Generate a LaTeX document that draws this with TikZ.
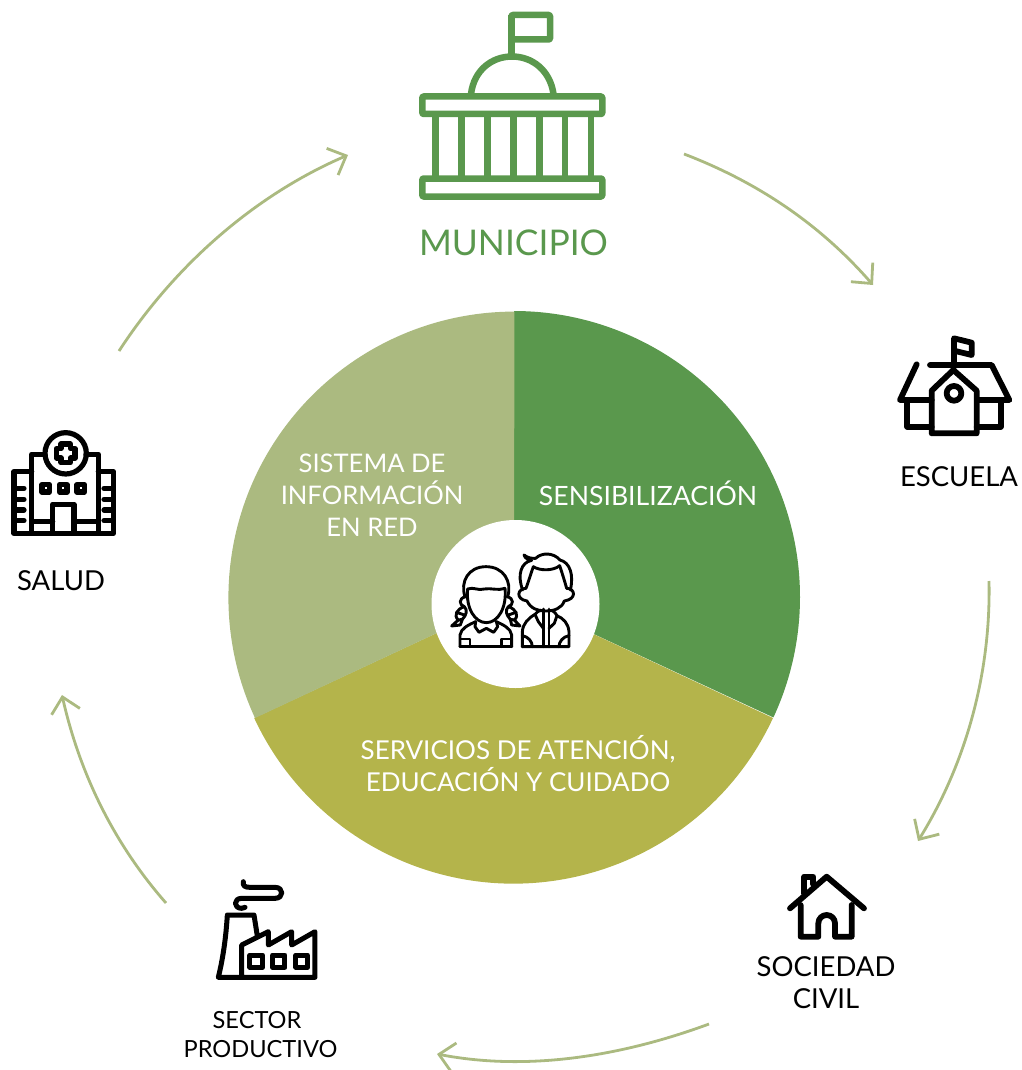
\documentclass[tikz,border=0pt]{standalone}
\usepackage{fontspec}
\setmainfont{Lato}
\usetikzlibrary{arrows.meta}
\definecolor{cgreen}{HTML}{5A984D}
\definecolor{clight}{HTML}{ABBA80}
\definecolor{colive}{HTML}{B4B44B}
\tikzset{
  flow/.style={draw=clight,line width=2.8pt,-{Straight Barb[length=15pt,width=29pt,line width=2.8pt]}},
  lab/.style={align=center,font=\fontsize{27.5}{32}\selectfont,text=black,inner sep=0pt},
  wlab/.style={lab,text=white,font=\fontsize{26.6}{32}\selectfont},
  ico/.style={line width=#1,line join=round,line cap=round},
  ico/.default=5pt
}
\begin{document}
\begin{tikzpicture}[x=1pt,y=-1pt]
\useasboundingbox (0,0) rectangle (1021,1070);
% pie
\coordinate (pc) at (514,597);
\coordinate (pa) at (514,311);
\coordinate (pb) at (773,718);
\coordinate (pd) at (255,718);
\fill[cgreen] (pc) -- (pa) arc[start angle=90,end angle=-24.9,radius=286pt] -- cycle;
\fill[colive] (pc) -- (pb) arc[start angle=-24.9,end angle=-155.1,radius=286pt] -- cycle;
\fill[clight] (pc) -- (pd) arc[start angle=-155.1,end angle=-270,radius=286pt] -- cycle;
\node[circle,fill=white,minimum size=168pt,inner sep=0pt] (hub) at (515.5,604) {};
\node[wlab] (n1) at (648,493) {SENSIBILIZACIÓN};
\node[wlab,font=\fontsize{25.6}{32}\selectfont] (n2) at (372,495.5) {SISTEMA DE\\INFORMACIÓN\\EN RED};
\node[wlab,font=\fontsize{26}{32}\selectfont] (n3) at (518,764) {SERVICIOS DE ATENCIÓN,\\EDUCACIÓN Y CUIDADO};
\node[lab,text=cgreen,font=\fontsize{35.4}{40}\selectfont] (m) at (513.5,243) {MUNICIPIO};
\node[lab] (e) at (959,477) {ESCUELA};
\node[lab] (s) at (61,581) {SALUD};
\node[lab] (c) at (826,983) {SOCIEDAD\\CIVIL};
\node[lab,font=\fontsize{23.6}{28.5}\selectfont] (f) at (260.5,1034.5) {SECTOR\hspace*{7pt}\\PRODUCTIVO};
% connectors
\coordinate (a1) at (684,154); \coordinate (a2) at (873,285);
\coordinate (b1) at (989,581); \coordinate (b2) at (918,841);
\coordinate (c1) at (709,1024); \coordinate (c2) at (437,1054);
\coordinate (d1) at (166,903); \coordinate (d2) at (62,695);
\coordinate (g1) at (119,351); \coordinate (g2) at (348,155);
\draw[flow] (a1) .. controls (765,185) and (825,230) .. (a2);
\draw[flow] (b1) .. controls (991,675) and (965,765) .. (b2);
\draw[flow] (c1) .. controls (625,1055) and (530,1072) .. (c2);
\draw[flow] (d1) .. controls (115,845) and (80,775) .. (d2);
\draw[flow] (g1) .. controls (175,265) and (255,195) .. (g2);
% municipio icon
\begin{scope}[cgreen,ico=6.5pt,line cap=butt]
\draw[rounded corners=1pt] (511.5,15) rectangle (550,39.5);
\draw (511.5,15) -- (511.5,55);
\draw (471,94) .. controls (474,70) and (492,56.5) .. (512,56.5) .. controls (532,56.5) and (550,70) .. (553.5,94);
\draw[rounded corners=1pt] (422.3,96.5) rectangle (602.3,114);
\draw[rounded corners=1pt] (422.3,178.5) rectangle (602.3,196.5);
\foreach \xx in {435.7,461.3,487.3,513.3,539.3,565,591} \draw (\xx,114) -- (\xx,178.5);
\end{scope}
% escuela icon
\begin{scope}[shift={(880,320)},x=0.3333pt,y=-0.3333pt,ico=5.8pt]
\draw (222,140) -- (222,55) -- (275,68) -- (275,105) -- (222,92);
\draw (155,212) -- (220,150) -- (290,212) -- (290,340) -- (155,340) -- cycle;
\draw (222,220) circle[radius=22];
\draw (110,133) -- (60,240) -- (155,240);
\draw (150,135) -- (335,135) -- (388,240) -- (295,240);
\draw (82,245) -- (82,320) -- (155,320);
\draw (362,245) -- (362,320) -- (290,320);
\end{scope}
% hospital icon
\begin{scope}[shift={(0,420)},x=0.3333pt,y=-0.3333pt,ico=5.2pt]
\draw (197,100) circle[radius=62];
\draw (183,72) -- (211,72) -- (211,86) -- (225,86) -- (225,114) -- (211,114) -- (211,128) -- (183,128) -- (183,114) -- (169,114) -- (169,86) -- (183,86) -- cycle;
\draw (95,340) -- (95,103) -- (135,103);
\draw (258,103) -- (295,103) -- (295,340);
\draw (95,155) -- (42,155) -- (42,340) -- (340,340) -- (340,155) -- (295,155);
\foreach \yy in {205,238,270,302} {
  \draw (42,\yy) -- (72,\yy);
  \draw (312,\yy) -- (340,\yy);
}
\foreach \xx in {137,190,242} \draw (\xx-11,194) rectangle (\xx+11,216);
\draw (158,340) -- (158,253) -- (222,253) -- (222,340);
\draw (95,305) -- (158,305) (222,305) -- (295,305);
\end{scope}
% factory icon
\begin{scope}[shift={(200,870)},x=0.3333pt,y=-0.3333pt,ico=5pt]
\draw (125,322) -- (125,225) -- (205,185) -- (205,225) -- (275,185) -- (275,225) -- (345,185) -- (345,322) -- (55,322) .. controls (70,260) and (78,200) .. (82,135) -- (162,135) -- (172,198);
\draw (150,255) rectangle (188,292);
\draw (218,255) rectangle (255,292);
\draw (288,255) rectangle (322,292);
\draw (130,35) .. controls (128,48) and (135,52) .. (150,52) -- (225,52) .. controls (252,52) and (252,85) .. (225,85) -- (125,85) .. controls (100,85) and (100,115) .. (125,115) -- (135,112);
\end{scope}
% house icon
\begin{scope}[shift={(770,860)},x=0.3333pt,y=-0.3333pt,ico=5.8pt]
\draw (60,145) -- (170,50) -- (282,145);
\draw (103,100) -- (103,50) -- (130,50) -- (130,72);
\draw (92,135) -- (92,230) -- (145,230) -- (145,190) arc[start angle=180,end angle=360,radius=25] -- (195,230) -- (245,230) -- (245,135);
\end{scope}
% children icon
\begin{scope}[shift={(425,525)},x=0.3333pt,y=-0.3333pt,ico=2.9pt]
% girl
\draw (120,215) .. controls (105,170) and (130,125) .. (183,125) .. controls (236,125) and (262,170) .. (248,215);
\draw (128,192) .. controls (145,185) and (160,198) .. (178,192) .. controls (195,188) and (220,198) .. (240,190);
\draw (128,192) .. controls (122,250) and (150,293) .. (184,293) .. controls (218,293) and (246,250) .. (240,190);
% left braid
\draw (122,215) .. controls (100,220) and (102,240) .. (118,245) .. controls (95,252) and (85,272) .. (100,285);
\draw (118,245) .. controls (128,255) and (125,270) .. (112,283);
\draw (100,285) -- (80,303) -- (106,300) -- (112,283) -- (100,285);
\draw (95,262) -- (118,270);
% right braid
\draw (246,215) .. controls (268,220) and (266,240) .. (250,245) .. controls (273,252) and (283,272) .. (268,285);
\draw (250,245) .. controls (240,255) and (243,270) .. (256,283);
\draw (268,285) -- (285,303) -- (260,300) -- (256,283) -- (268,285);
\draw (273,262) -- (250,270);
% body
\draw (105,365) -- (105,330) .. controls (108,310) and (130,300) .. (152,290);
\draw (260,365) -- (260,330) .. controls (257,310) and (236,300) .. (214,290);
\draw (105,365) -- (260,365);
\draw (152,290) -- (150,305) -- (162,322) -- (184,310) -- (206,322) -- (218,305) -- (214,290);
\draw (108,342) -- (135,342) -- (135,365) (257,342) -- (230,342) -- (230,365);
% boy
\draw (297,90) .. controls (310,100) and (320,100) .. (332,100) .. controls (350,82) and (385,82) .. (405,105) .. controls (435,112) and (447,150) .. (436,195);
\draw (297,90) .. controls (300,100) and (310,105) .. (320,106) .. controls (288,112) and (276,150) .. (293,195);
\draw (325,125) .. controls (345,138) and (385,138) .. (404,122);
\draw (325,125) .. controls (318,145) and (312,165) .. (303,190) .. controls (278,190) and (270,222) .. (306,228) .. controls (318,252) and (340,258) .. (362,258) .. controls (388,258) and (410,250) .. (418,228) .. controls (457,222) and (450,190) .. (425,190) .. controls (418,165) and (410,140) .. (404,122);
\draw (355,252) -- (355,365) (372,252) -- (372,365);
\draw (292,365) -- (432,365) -- (432,320) .. controls (430,295) and (415,280) .. (396,272) .. controls (390,262) and (385,258) .. (380,256);
\draw (292,365) -- (292,320) .. controls (294,295) and (310,280) .. (330,268) .. controls (335,262) and (340,258) .. (348,255);
\draw (330,268) -- (340,290) -- (355,310) (396,272) -- (388,295) -- (372,310);
\draw (292,332) .. controls (310,335) and (322,350) .. (322,365) (432,332) .. controls (414,335) and (402,350) .. (402,365);
\end{scope}
\end{tikzpicture}
\end{document}
